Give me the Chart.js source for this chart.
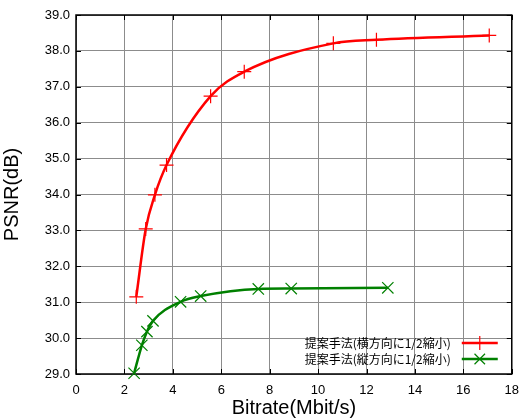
<!DOCTYPE html>
<html>
<head>
<meta charset="utf-8">
<script src="https://cdn.jsdelivr.net/npm/chart.js@4"></script>
<style>
  html, body { margin: 0; padding: 0; background: #fff; }
  #wrap { width: 528px; height: 420px; }
</style>
</head>
<body>
<div id="wrap"><canvas id="psnr"></canvas></div>
<script>
const seriesNames = ['提案手法(横方向に1/2縮小)', '提案手法(縦方向に1/2縮小)']
const horizBitrate = [2.49, 2.88, 3.26, 3.74, 5.56, 6.95, 10.63, 12.41, 17.07]
const horizPsnr = [31.15, 33.04, 33.99, 34.82, 36.74, 37.42, 38.21, 38.31, 38.43]
const vertBitrate = [2.40, 2.72, 2.93, 3.18, 4.32, 5.15, 7.53, 8.89, 12.88]
const vertPsnr = [29.02, 29.80, 30.18, 30.48, 31.01, 31.17, 31.37, 31.38, 31.40]

const toPoints = (xs, ys) => xs.map((x, i) => ({ x: x, y: ys[i] }))

const latin = '"Liberation Sans", Arial, sans-serif'
const jp = '"Noto Sans CJK JP", sans-serif'

// inward ticks on all four sides + black frame
const frame = {
  id: 'frame',
  beforeDatasetsDraw(chart) {
    const { ctx, chartArea: a, scales } = chart
    ctx.save()
    ctx.strokeStyle = '#000'
    ctx.lineWidth = 1
    ctx.beginPath()
    scales.x.ticks.forEach(t => {
      const px = Math.round(scales.x.getPixelForValue(t.value)) + 0.5
      ctx.moveTo(px, a.bottom); ctx.lineTo(px, a.bottom - 5)
      ctx.moveTo(px, a.top); ctx.lineTo(px, a.top + 5)
    })
    scales.y.ticks.forEach(t => {
      const py = Math.round(scales.y.getPixelForValue(t.value)) + 0.5
      ctx.moveTo(a.left, py); ctx.lineTo(a.left + 5, py)
      ctx.moveTo(a.right, py); ctx.lineTo(a.right - 5, py)
    })
    ctx.stroke()
    ctx.lineWidth = 1.5
    ctx.strokeRect(a.left, a.top, a.right - a.left, a.bottom - a.top)
    ctx.restore()
  }
}

// legend inside plot, text first then line sample
const innerLegend = {
  id: 'innerLegend',
  afterDatasetsDraw(chart) {
    const { ctx, chartArea: a } = chart
    const textRight = a.right - 61
    const lineL = a.right - 50
    const lineR = a.right - 14
    const rows = [a.bottom - 31, a.bottom - 15]
    ctx.save()
    ctx.font = '12px ' + jp
    ctx.textAlign = 'right'
    ctx.textBaseline = 'middle'
    chart.data.datasets.forEach((ds, i) => {
      const y = rows[i]
      ctx.fillStyle = '#000'
      ctx.fillText(ds.label, textRight, y)
      ctx.strokeStyle = ds.borderColor
      ctx.lineWidth = 2.5
      ctx.beginPath()
      ctx.moveTo(lineL, y); ctx.lineTo(lineR, y)
      ctx.stroke()
      const mx = (lineL + lineR) / 2
      const r = 7
      ctx.lineWidth = 1.2
      ctx.beginPath()
      if (ds.pointStyle === 'cross') {
        ctx.moveTo(mx, y - r); ctx.lineTo(mx, y + r)
        ctx.moveTo(mx - r, y); ctx.lineTo(mx + r, y)
      } else {
        const d = r * 0.75
        ctx.moveTo(mx - d, y - d); ctx.lineTo(mx + d, y + d)
        ctx.moveTo(mx - d, y + d); ctx.lineTo(mx + d, y - d)
      }
      ctx.stroke()
    })
    ctx.restore()
  }
}

new Chart('psnr', {
  type: 'line',
  data: {
    datasets: [{
      label: seriesNames[0],
      data: toPoints(horizBitrate, horizPsnr),
      borderColor: '#ff0000',
      backgroundColor: '#ff0000',
      borderWidth: 2.5,
      pointStyle: 'cross',
      pointRadius: 7,
      pointBorderWidth: 1.2,
      cubicInterpolationMode: 'monotone',
      clip: false
    }, {
      label: seriesNames[1],
      data: toPoints(vertBitrate, vertPsnr),
      borderColor: '#008000',
      backgroundColor: '#008000',
      borderWidth: 2.5,
      pointStyle: 'crossRot',
      pointRadius: 8,
      pointBorderWidth: 1.2,
      cubicInterpolationMode: 'monotone',
      clip: false
    }]
  },
  options: {
    responsive: true,
    maintainAspectRatio: false,
    animation: false,
    layout: { padding: { top: 15, right: 13, left: 0, bottom: 0 } },
    plugins: { legend: { display: false }, tooltip: { enabled: false } },
    scales: {
      x: {
        type: 'linear',
        min: 0, max: 18,
        ticks: { stepSize: 2, color: '#000', font: { family: latin, size: 13 }, padding: 9, maxRotation: 0 },
        grid: { color: '#8c8c8c', lineWidth: 1, drawTicks: false },
        border: { display: false },
        title: { display: true, text: 'Bitrate(Mbit/s)', color: '#000', font: { family: latin, size: 20 }, padding: { top: 0, bottom: 0 } },
        afterFit(s) { s.height = 46 }
      },
      y: {
        min: 29, max: 39,
        ticks: { stepSize: 1, color: '#000', font: { family: latin, size: 13 }, padding: 6, callback: v => v.toFixed(1) },
        grid: { color: '#8c8c8c', lineWidth: 1, drawTicks: false },
        border: { display: false },
        title: { display: true, text: 'PSNR(dB)', color: '#000', font: { family: latin, size: 20 }, padding: { top: 0, bottom: 6 } },
        afterFit(s) { s.width = 76 }
      }
    }
  },
  plugins: [frame, innerLegend]
})
</script>
</body>
</html>
